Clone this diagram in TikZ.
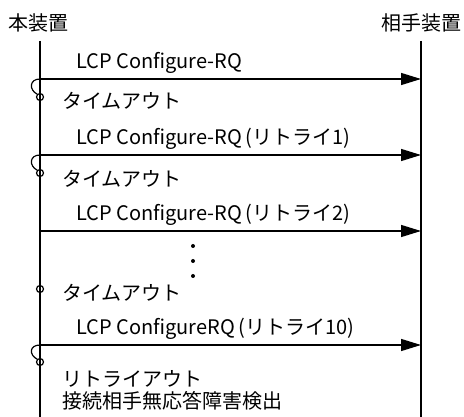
\documentclass[tikz,border=0pt]{standalone}
\usepackage{fontspec}
\setmainfont{Noto Sans CJK JP}
\usetikzlibrary{arrows.meta}

\begin{document}
\begin{tikzpicture}[
    x=1pt, y=-1pt,
    every node/.style={font=\fontsize{20}{23}\selectfont, inner sep=0pt},
    life/.style={line width=1.4pt},
    msg/.style={line width=1.4pt, -{Triangle[length=20pt, width=12pt]}},
    tmr/.style={draw, circle, line width=1.2pt, minimum size=7pt},
    hook/.style={line width=1.2pt},
    lbl/.style={anchor=west}
]
\useasboundingbox (0,0) rectangle (464,417);

% lifelines
\node (hon) at (39,23) {本装置};
\node (aite) at (421,23) {相手装置};
\coordinate (hontop) at (40,41);
\coordinate (honbot) at (40,417);
\coordinate (aitetop) at (421,41);
\coordinate (aitebot) at (421,417);
\draw[life] (hontop) -- (honbot);
\draw[life] (aitetop) -- (aitebot);

% message end points
\coordinate (s1) at (40,79);   \coordinate (r1) at (421,79);
\coordinate (s2) at (40,155);  \coordinate (r2) at (421,155);
\coordinate (s3) at (40,231);  \coordinate (r3) at (421,231);
\coordinate (s4) at (40,345);  \coordinate (r4) at (421,345);

\draw[msg] (s1) -- (r1);
\draw[msg] (s2) -- (r2);
\draw[msg] (s3) -- (r3);
\draw[msg] (s4) -- (r4);

\node[lbl] (m1) at (76,63) {LCP Configure-RQ};
\node[lbl] (m2) at (76,139) {LCP Configure-RQ\,(リトライ1)};
\node[lbl] (m3) at (76,215) {LCP Configure-RQ\,(リトライ2)};
\node[lbl] (m4) at (76,329) {LCP ConfigureRQ\,(リトライ10)};

% timers
\node[tmr] (t1) at (40,97) {};
\node[tmr] (t2) at (40,173) {};
\node[tmr] (t3) at (40,289) {};
\node[tmr] (t4) at (40,362) {};
\draw[hook] (s1) .. controls +(-11,0) and +(-8,-4) .. (t1.north west);
\draw[hook] (s2) .. controls +(-11,0) and +(-8,-4) .. (t2.north west);
\draw[hook] (s4) .. controls +(-11,0) and +(-8,-4) .. (t4.north west);

\node[lbl] (to1) at (62,101) {タイムアウト};
\node[lbl] (to2) at (62,179) {タイムアウト};
\node[lbl] (to3) at (62,293) {タイムアウト};
\node[lbl] (ro) at (62,379) {リトライアウト};
\node[lbl] (det) at (62,401) {接続相手無応答障害検出};

% omitted retries
\fill (193,246) circle (2pt);
\fill (193,261) circle (2pt);
\fill (193,276) circle (2pt);
\end{tikzpicture}
\end{document}
